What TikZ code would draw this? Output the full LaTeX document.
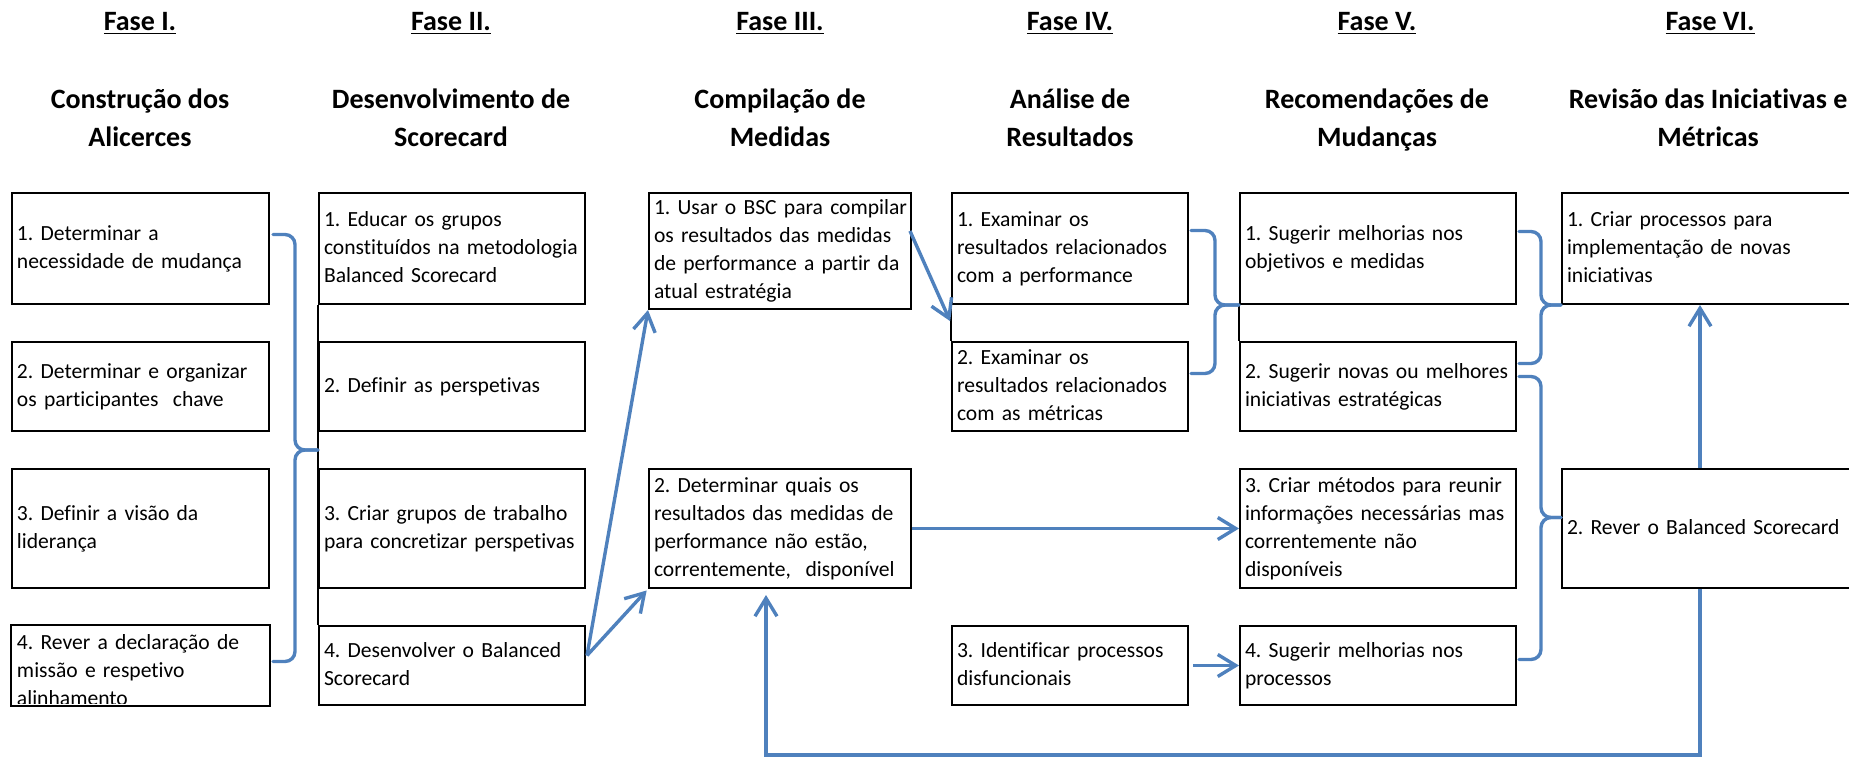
\documentclass[tikz,border=0pt]{standalone}
\usepackage{fontspec}
\setmainfont{Carlito}[Ligatures=CommonOff]
\usetikzlibrary{arrows.meta,calc}

\definecolor{azul}{RGB}{79,129,189}
\newcommand\letraetapa{\fontsize{10.8}{14}\selectfont\frenchspacing}
\newcommand\linhas[1]{\begin{tabular}[t]{@{}l@{}}#1\end{tabular}}
\tikzset{
  etapa/.style 2 args={draw, line width=1pt, anchor=north west, align=left,
    inner xsep=2.5pt, inner ysep=1pt, text width=#1, minimum height=#2,
    font=\letraetapa},
  fase/.style={anchor=base, font=\fontsize{14}{18}\selectfont\bfseries},
  titulo/.style={anchor=base, align=center, font=\fontsize{14}{19}\selectfont\bfseries},
  seta/.style={draw=azul, line width=1.7pt, -{Straight Barb[length=9pt,width=11pt]}},
  chave/.style={draw=azul, line width=1.7pt, rounded corners=5pt, line cap=round},
  linha/.style={line width=1pt},
}

\begin{document}
\begin{tikzpicture}[x=0.5pt,y=-0.5pt]
	\useasboundingbox (0,0) rectangle (1849,756);
	\clip (0,0) rectangle (1849,756);

	% fases
	\node[fase] (f1) at (140,30) {\underline{Fase I.}};
	\node[fase] (f2) at (451,30) {\underline{Fase II.}};
	\node[fase] (f3) at (780,30) {\underline{Fase III.}};
	\node[fase] (f4) at (1070,30) {\underline{Fase IV.}};
	\node[fase] (f5) at (1377,30) {\underline{Fase V.}};
	\node[fase] (f6) at (1710,30) {\underline{Fase VI.}};

	\node[titulo] (t1) at (140,146) {Construção dos\\Alicerces};
	\node[titulo] (t2) at (451,146) {Desenvolvimento de\\Scorecard};
	\node[titulo] (t3) at (780,146) {Compilação de\\Medidas};
	\node[titulo] (t4) at (1070,146) {Análise de\\Resultados};
	\node[titulo] (t5) at (1377,146) {Recomendações de\\Mudanças};
	\node[titulo] (t6) at (1708,146) {Revisão das Iniciativas e\\Métricas};

	% fase I
	\node[etapa={123.5pt}{55.5pt}] (b11) at (11,192) {\linhas{1. Determinar a\\necessidade de mudança}};
	\node[etapa={123.5pt}{44.5pt}] (b12) at (11,341) {\linhas{2. Determinar e organizar\\os participantes\ \ chave}};
	\node[etapa={123.5pt}{59.5pt}] (b13) at (11,468) {\linhas{3. Definir a visão da\\liderança}};
	\begin{scope}
		\clip (11,625) rectangle (268,703);
		\node[etapa={123.5pt}{39.5pt}, draw=none, text height=10.5pt, text depth=27pt] (b14) at (11,625) {\linhas{4. Rever a declaração de\\missão e respetivo\\alinhamento}};
	\end{scope}
	\draw[linha] (b14.south west) rectangle (b14.north east);

	% fase II
	\node[etapa={128pt}{55.5pt}] (b21) at (318,192) {\linhas{1. Educar os grupos\\constituídos na metodologia\\Balanced Scorecard}};
	\node[etapa={128pt}{44.5pt}] (b22) at (318,341) {\linhas{2. Definir as perspetivas}};
	\node[etapa={128pt}{59.5pt}] (b23) at (318,468) {\linhas{3. Criar grupos de trabalho\\para concretizar perspetivas}};
	\node[etapa={128pt}{39.5pt}] (b24) at (318,625) {\linhas{4. Desenvolver o Balanced\\Scorecard}};
	\draw[linha] (b21.south west) -- (b24.north west);

	% fase III
	\node[etapa={126pt}{55.5pt}] (b31) at (648,192) {\linhas{1. Usar o BSC para compilar\\os resultados das medidas\\de performance a partir da\\atual estratégia}};
	\node[etapa={126pt}{59.5pt}] (b32) at (648,468) {\linhas{2. Determinar quais os\\resultados das medidas de\\performance não estão,\\correntemente,\ \ disponível}};

	% fase IV
	\node[etapa={113pt}{55.5pt}] (b41) at (951,192) {\linhas{1. Examinar os\\resultados relacionados\\com a performance}};
	\node[etapa={113pt}{44.5pt}] (b42) at (951,341) {\linhas{2. Examinar os\\resultados relacionados\\com as métricas}};
	\node[etapa={113pt}{39.5pt}] (b43) at (951,625) {\linhas{3. Identificar processos\\disfuncionais}};
	\draw[linha] (b41.south west) -- (b42.north west);

	% fase V
	\node[etapa={133pt}{55.5pt}] (b51) at (1239,192) {\linhas{1. Sugerir melhorias nos\\objetivos e medidas}};
	\node[etapa={133pt}{44.5pt}] (b52) at (1239,341) {\linhas{2. Sugerir novas ou melhores\\iniciativas estratégicas}};
	\node[etapa={133pt}{59.5pt}] (b53) at (1239,468) {\linhas{3. Criar métodos para reunir\\informações necessárias mas\\correntemente não\\disponíveis}};
	\node[etapa={133pt}{39.5pt}] (b54) at (1239,625) {\linhas{4. Sugerir melhorias nos\\processos}};
	\draw[linha] (b51.south west) -- (b52.north west);

	% fase VI
	\node[etapa={141pt}{55.5pt}] (b61) at (1561,192) {\linhas{1. Criar processos para\\implementação de novas\\iniciativas}};
	\node[etapa={141pt}{59.5pt}] (b62) at (1561,468) {\linhas{2. Rever o Balanced Scorecard}};

	% chavetas
	\coordinate (pI) at ($(b22.south west)!0.5!(b23.north west)$);
	\draw[chave] ($(b11.east)+(3,-14)$) -- ++(22,0) |- (pI);
	\draw[chave] ($(b14.east)+(3,-4)$) -- ++(22,0) |- (pI);
	\draw[chave] ($(b41.east)+(2,-18)$) -- ++(24,0) |- (b51.south west);
	\draw[chave] ($(b42.east)+(2,-13)$) -- ++(24,0) |- (b51.south west);
	\draw[chave] ($(b51.east)+(2,-17)$) -- ++(22,0) |- (b61.south west);
	\draw[chave] ($(b52.east)+(2,-23)$) -- ++(22,0) |- (b61.south west);
	\coordinate (pV) at ($(b62.west)+(0,-11)$);
	\draw[chave] ($(b52.east)+(2,-10)$) -- ++(22,0) |- (pV);
	\draw[chave] ($(b54.east)+(2,-6)$) -- ++(22,0) |- (pV);

	% setas
	\draw[seta, shorten >=1pt] ($(b31.east)+(-2,-20)$) -- ($(b41.south west)!0.5!(b42.north west)$);
	\draw[seta] ($(b24.east)+(1,-10)$) -- (b31.south west);
	\draw[seta, shorten >=1pt] ($(b24.east)+(1,-10)$) -- (b32.south west);
	\draw[seta] (b32.east) -- (b53.west);
	\draw[seta] ($(b43.east)+(4,0)$) -- (b54.west);
	\draw[seta] ($(b62.north)+(-8,0)$) -- ($(b61.south)+(-8,0)$);
	\draw[seta] ($(b62.south)+(-8,0)$) -- ++(0,166) -| ($(b32.south)+(-14,6)$);
\end{tikzpicture}
\end{document}
